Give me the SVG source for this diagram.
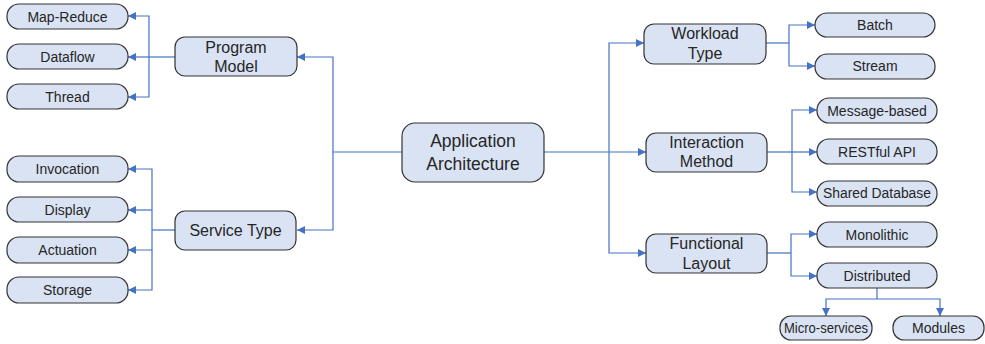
<svg xmlns="http://www.w3.org/2000/svg" width="985" height="344" viewBox="0 0 985 344">
  <style>
    .n rect { fill: #dae3f3; stroke: #333333; stroke-width: 1.2; }
    .n text { font-family: "Liberation Sans", Arial, sans-serif; fill: #262626; text-anchor: middle; }
    .leaf text { font-size: 14px; }
    .mid text { font-size: 16px; }
    .root text { font-size: 17.5px; }
    .c path { fill: none; stroke: #4472c4; stroke-width: 1.2; }
    .c path.a { marker-end: url(#arr); }
  </style>
  <defs>
    <marker id="arr" markerUnits="userSpaceOnUse" markerWidth="9" markerHeight="8" refX="8" refY="4" orient="auto">
      <path d="M0,0 L8,4 L0,8 z" fill="#4472c4"/>
    </marker>
  </defs>
  <rect width="985" height="344" fill="#ffffff"/>

  <g id="connectors" class="c">
    <!-- root left -->
    <path d="M402,152 H333"/>
    <path d="M333,152 V57 H297" class="a"/>
    <path d="M333,152 V230 H297" class="a"/>
    <!-- program model -->
    <path d="M175,57 H149"/>
    <path d="M149,57 V16 H128" class="a"/>
    <path d="M149,57 H128" class="a"/>
    <path d="M149,57 V97 H128" class="a"/>
    <!-- service type -->
    <path d="M175,230 H152"/>
    <path d="M152,230 V169 H128" class="a"/>
    <path d="M152,210 H128" class="a"/>
    <path d="M152,230 V250 H128" class="a"/>
    <path d="M152,250 V290 H128" class="a"/>
    <!-- root right -->
    <path d="M544,152 H609"/>
    <path d="M609,152 V43 H644" class="a"/>
    <path d="M609,152 H646" class="a"/>
    <path d="M609,152 V253 H646" class="a"/>
    <!-- workload -->
    <path d="M766,43 H789"/>
    <path d="M789,43 V25 H815" class="a"/>
    <path d="M789,43 V66 H815" class="a"/>
    <!-- interaction -->
    <path d="M767,152 H792"/>
    <path d="M792,152 V110 H817" class="a"/>
    <path d="M792,152 H817" class="a"/>
    <path d="M792,152 V192 H817" class="a"/>
    <!-- functional -->
    <path d="M767,253 H791"/>
    <path d="M791,253 V234 H817" class="a"/>
    <path d="M791,253 V276 H817" class="a"/>
    <!-- distributed -->
    <path d="M877,288 V299"/>
    <path d="M877,299 H826 V316" class="a"/>
    <path d="M877,299 H940 V316" class="a"/>
  </g>

  <g id="root" class="n root">
    <rect x="402" y="123" width="142" height="59" rx="13"/>
    <text x="473" y="147">Application</text>
    <text x="473" y="170">Architecture</text>
  </g>

  <g id="program-model" class="n mid">
    <rect x="175" y="37" width="122" height="39" rx="10"/>
    <text x="236" y="53">Program</text>
    <text x="236" y="72">Model</text>
  </g>
  <g id="service-type" class="n mid">
    <rect x="175" y="211" width="121" height="39" rx="10"/>
    <text x="235.5" y="236">Service Type</text>
  </g>

  <g id="map-reduce" class="n leaf"><rect x="7" y="4" width="121" height="25" rx="12"/><text x="67.5" y="21.5">Map-Reduce</text></g>
  <g id="dataflow" class="n leaf"><rect x="7" y="44" width="121" height="25" rx="12"/><text x="67.5" y="61.5">Dataflow</text></g>
  <g id="thread" class="n leaf"><rect x="7" y="84" width="121" height="25" rx="12"/><text x="67.5" y="101.5">Thread</text></g>

  <g id="invocation" class="n leaf"><rect x="7" y="156" width="121" height="26" rx="12"/><text x="67.5" y="174">Invocation</text></g>
  <g id="display" class="n leaf"><rect x="7" y="197" width="121" height="25" rx="12"/><text x="67.5" y="215">Display</text></g>
  <g id="actuation" class="n leaf"><rect x="7" y="237" width="121" height="26" rx="12"/><text x="67.5" y="255">Actuation</text></g>
  <g id="storage" class="n leaf"><rect x="7" y="277" width="121" height="26" rx="12"/><text x="67.5" y="295">Storage</text></g>

  <g id="workload-type" class="n mid">
    <rect x="644" y="24" width="122" height="40" rx="10"/>
    <text x="705" y="39">Workload</text>
    <text x="705" y="59">Type</text>
  </g>
  <g id="interaction-method" class="n mid">
    <rect x="646" y="133" width="121" height="39" rx="10"/>
    <text x="706.5" y="148">Interaction</text>
    <text x="706.5" y="167">Method</text>
  </g>
  <g id="functional-layout" class="n mid">
    <rect x="646" y="234" width="121" height="39" rx="10"/>
    <text x="706.5" y="249">Functional</text>
    <text x="706.5" y="269">Layout</text>
  </g>

  <g id="batch" class="n leaf"><rect x="815" y="13" width="120" height="24" rx="12"/><text x="875" y="30">Batch</text></g>
  <g id="stream" class="n leaf"><rect x="815" y="54" width="120" height="25" rx="12"/><text x="875" y="71">Stream</text></g>
  <g id="message-based" class="n leaf"><rect x="817" y="98" width="120" height="25" rx="12"/><text x="877" y="115.5">Message-based</text></g>
  <g id="restful-api" class="n leaf"><rect x="817" y="139" width="120" height="25" rx="12"/><text x="877" y="157">RESTful API</text></g>
  <g id="shared-database" class="n leaf"><rect x="817" y="181" width="120" height="25" rx="12"/><text x="877" y="198" textLength="108" lengthAdjust="spacingAndGlyphs">Shared Database</text></g>
  <g id="monolithic" class="n leaf"><rect x="817" y="222" width="120" height="25" rx="12"/><text x="877" y="239.5">Monolithic</text></g>
  <g id="distributed" class="n leaf"><rect x="817" y="263" width="120" height="25" rx="12"/><text x="877" y="281">Distributed</text></g>
  <g id="micro-services" class="n leaf"><rect x="780" y="316" width="92" height="24" rx="11"/><text x="826" y="333" textLength="84" lengthAdjust="spacingAndGlyphs">Micro-services</text></g>
  <g id="modules" class="n leaf"><rect x="893" y="316" width="91" height="24" rx="11"/><text x="938.5" y="333">Modules</text></g>
</svg>
